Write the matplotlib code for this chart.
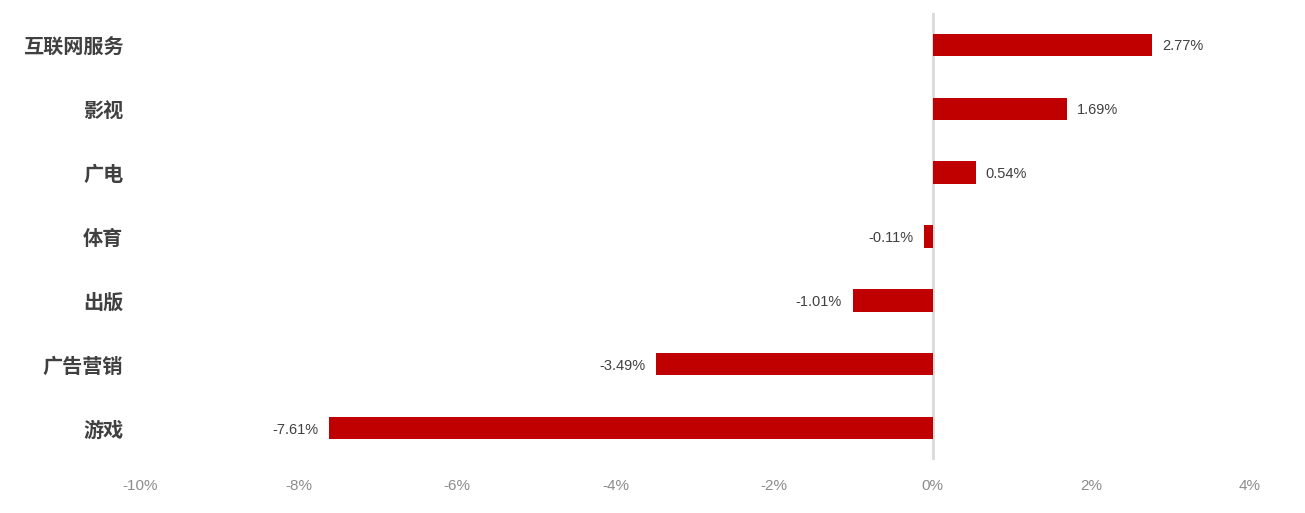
import matplotlib
matplotlib.use("Agg")
import matplotlib.pyplot as plt
from matplotlib.ticker import FuncFormatter

categories = ["互联网服务", "影视", "广电", "体育", "出版", "广告营销", "游戏"]
values = [2.77, 1.69, 0.54, -0.11, -1.01, -3.49, -7.61]
xticks = [-10, -8, -6, -4, -2, 0, 2, 4]

plt.rcParams['font.family'] = ['Noto Sans CJK SC', 'DejaVu Sans']

fig = plt.figure(figsize=(13.05, 5.13), dpi=100)
ax = fig.add_axes([140/1305, 1-460/513, (1250-140)/1305, (460-13)/513])

n = len(categories)
ypos = list(range(n))[::-1]
ax.barh(ypos, values, height=0.35, color="#C00000", zorder=2)

for y, v in zip(ypos, values):
    txt = f"{v:.2f}%"
    if v >= 0:
        ax.annotate(txt, (v, y), xytext=(7, 0), textcoords="offset points",
                    ha="left", va="center_baseline", fontsize=10.5, color="#404040",
                    family=["Liberation Sans", "DejaVu Sans"])
    else:
        ax.annotate(txt, (v, y), xytext=(-8, 0), textcoords="offset points",
                    ha="right", va="center_baseline", fontsize=10.5, color="#404040",
                    family=["Liberation Sans", "DejaVu Sans"])

ax.set_xlim(-10, 4)
ax.set_ylim(-0.5, n - 0.5)
ax.set_xticks(xticks)
ax.xaxis.set_major_formatter(FuncFormatter(lambda x, p: f"{x:.0f}%"))
ax.set_yticks(ypos)
ax.set_yticklabels(categories)

for lab in ax.get_xticklabels():
    lab.set_family(["Liberation Sans", "DejaVu Sans"])
    lab.set_fontsize(11)
    lab.set_color("#8c8c8c")
for lab in ax.get_yticklabels():
    lab.set_fontsize(14.5)
    lab.set_color("#404040")
    lab.set_fontweight("bold")

ax.tick_params(axis="both", length=0)
ax.tick_params(axis="y", pad=12)
ax.tick_params(axis="x", pad=14)
for s in ax.spines.values():
    s.set_visible(False)
ax.axvline(0, color="#d9d9d9", linewidth=2, zorder=1)

fig.savefig("out.png", dpi=100, facecolor="white")
